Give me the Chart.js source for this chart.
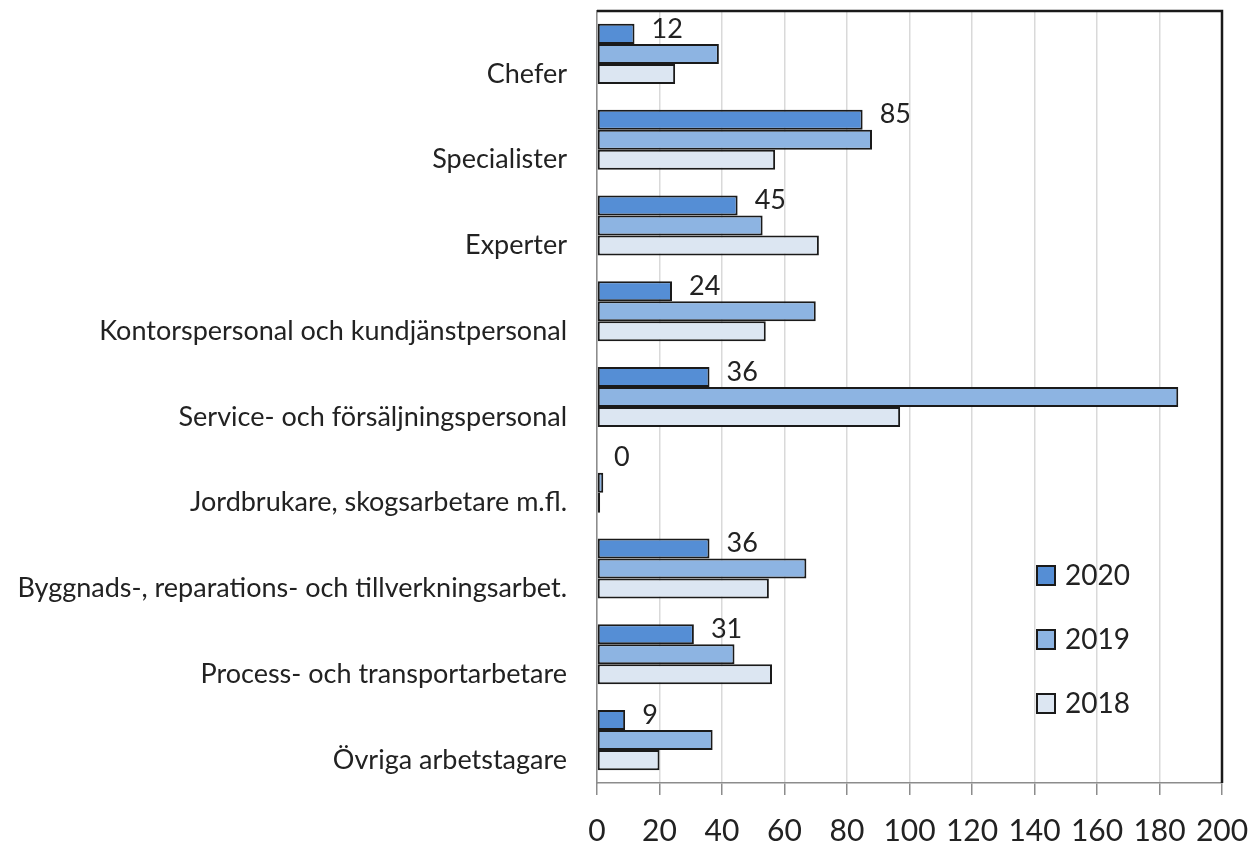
<!DOCTYPE html>
<html>
<head>
<meta charset="utf-8">
<script src="https://cdn.jsdelivr.net/npm/chart.js@4/dist/chart.umd.min.js"></script>
<style>
  html, body { margin: 0; padding: 0; background: #fff; }
  #wrap { width: 1257px; height: 846px; position: relative; }
</style>
</head>
<body>
<div id="wrap"><canvas id="chart"></canvas></div>
<script>
const categories = [
  "Chefer",
  "Specialister",
  "Experter",
  "Kontorspersonal och kundjänstpersonal",
  "Service- och försäljningspersonal",
  "Jordbrukare, skogsarbetare m.fl.",
  "Byggnads-, reparations- och tillverkningsarbet.",
  "Process- och transportarbetare",
  "Övriga arbetstagare"
]

const values2020 = [12, 85, 45, 24, 36, 0, 36, 31, 9]
const values2019 = [39, 88, 53, 70, 186, 2, 67, 44, 37]
const values2018 = [25, 57, 71, 54, 97, 1, 55, 56, 20]

const xTicks = [0, 20, 40, 60, 80, 100, 120, 140, 160, 180, 200]

const FONT = "Lato, 'Open Sans', sans-serif"
const TEXT = "#222222"

// labels beside the 2020 bars + black top/right frame + legend in plot
const extras = {
  id: "extras",
  afterDatasetsDraw(chart) {
    const { ctx, chartArea } = chart
    ctx.save()
    // frame on top and right
    ctx.strokeStyle = "#1a1a1a"
    ctx.lineWidth = 2.5
    ctx.beginPath()
    ctx.moveTo(chartArea.left, chartArea.top)
    ctx.lineTo(chartArea.right, chartArea.top)
    ctx.lineTo(chartArea.right, chartArea.bottom)
    ctx.stroke()

    // value labels for 2020
    const meta = chart.getDatasetMeta(0)
    ctx.fillStyle = TEXT
    ctx.font = "27px " + FONT
    ctx.textAlign = "left"
    ctx.textBaseline = "middle"
    meta.data.forEach((bar, i) => {
      ctx.fillText(String(values2020[i]), bar.x + 17, bar.y - 5)
    })

    // legend
    const items = chart.data.datasets
    const lx = 1037, ly0 = 575, step = 64
    items.forEach((ds, i) => {
      const y = ly0 + i * step
      ctx.fillStyle = ds.backgroundColor
      ctx.fillRect(lx, y - 9, 18, 19)
      ctx.strokeStyle = "#1a1a1a"
      ctx.lineWidth = 2
      ctx.strokeRect(lx, y - 9, 18, 19)
      ctx.fillStyle = TEXT
      ctx.font = "28px " + FONT
      ctx.fillText(ds.label, lx + 28, y + 1)
    })
    ctx.restore()
  }
}

const canvas = document.getElementById("chart")

new Chart(canvas, {
  type: "bar",
  data: {
    labels: categories,
    datasets: [
      { label: "2020", data: values2020, backgroundColor: "#558ed5" },
      { label: "2019", data: values2019, backgroundColor: "#8db4e2" },
      { label: "2018", data: values2018, backgroundColor: "#dce6f2" }
    ].map(ds => Object.assign(ds, {
      borderColor: "#1a1a1a",
      borderWidth: 2,
      borderSkipped: false,
      categoryPercentage: 0.7,
      barPercentage: 1.0
    }))
  },
  options: {
    indexAxis: "y",
    responsive: true,
    maintainAspectRatio: false,
    animation: false,
    layout: { padding: { top: 11, right: 35, left: 0, bottom: 0 } },
    plugins: {
      legend: { display: false },
      tooltip: { enabled: false }
    },
    scales: {
      x: {
        min: 0,
        max: 200,
        afterBuildTicks: scale => { scale.ticks = xTicks.map(v => ({ value: v })) },
        afterFit: scale => {
          scale.height = 63
          scale.paddingLeft = 0
          scale.paddingRight = 0
        },
        grid: {
          color: "#d9d9d9",
          lineWidth: 1.5,
          tickColor: "#8c8c8c",
          tickLength: 12
        },
        border: { color: "#8c8c8c", width: 1.5 },
        ticks: {
          color: TEXT,
          font: { family: FONT, size: 30 },
          padding: 18,
          maxRotation: 0
        }
      },
      y: {
        afterFit: scale => {
          scale.width = 597
          scale.paddingTop = 0
          scale.paddingBottom = 0
        },
        grid: { display: false, drawTicks: false },
        border: { color: "#8c8c8c", width: 1.5 },
        ticks: {
          color: TEXT,
          font: { family: FONT, size: 27 },
          padding: 30,
          labelOffset: 20
        }
      }
    }
  },
  plugins: [extras]
})
</script>
</body>
</html>
